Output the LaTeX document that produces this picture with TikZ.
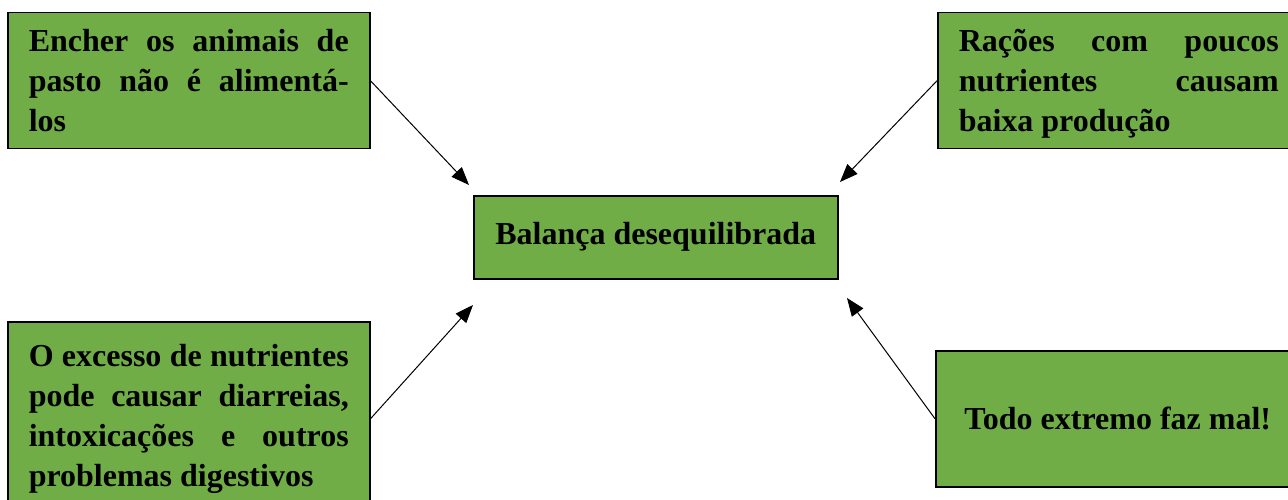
\documentclass[tikz,border=0pt]{standalone}
\usepackage{fontspec}
\setmainfont{Liberation Serif}
\usetikzlibrary{arrows.meta}
\definecolor{boxgreen}{RGB}{112,173,71}
\hyphenpenalty=10000
\begin{document}
\begin{tikzpicture}[x=1pt,y=1pt]
\tikzstyle{box}=[draw=black, line width=1.5pt, fill=boxgreen, inner xsep=21pt, inner ysep=4pt, font=\fontsize{32}{40}\selectfont\bfseries]
\tikzstyle{link}=[black, line width=1pt, -{Triangle[length=18pt,width=14pt]}]
\clip [use as bounding box] (0,0) rectangle (1288,-500);
\node [box, anchor=north west, text width=320pt, minimum height=136pt, align=justify] (encher) at (7,-12) {Encher os animais de\linebreak pasto não é alimentá-\linebreak los};
\node [box, anchor=north west, text width=320pt, minimum height=136pt, align=justify] (racoes) at (937,-12) {\strut Rações com poucos\linebreak nutrientes causam\linebreak baixa produção};
\node [box, anchor=north west, minimum width=364pt, minimum height=83pt, align=center] (balanca) at (473,-195) {Balança desequilibrada};
\node [box, anchor=north west, text width=320pt, minimum height=194pt, align=justify] (excesso) at (7,-321) {O excesso de nutrientes\linebreak pode causar diarreias,\linebreak intoxicações e outros\linebreak problemas digestivos};
\node [box, anchor=north west, minimum width=364pt, minimum height=136pt, align=center] (todo) at (935,-350) {Todo extremo faz mal!};
\coordinate (t1) at (469,-185);
\coordinate (t2) at (840,-182);
\coordinate (t3) at (473,-305);
\coordinate (t4) at (847,-298);
\draw [link] (encher.east) -- (t1);
\draw [link] (racoes.west) -- (t2);
\draw [link] (excesso.east) -- (t3);
\draw [link] (todo.west) -- (t4);
\end{tikzpicture}
\end{document}
